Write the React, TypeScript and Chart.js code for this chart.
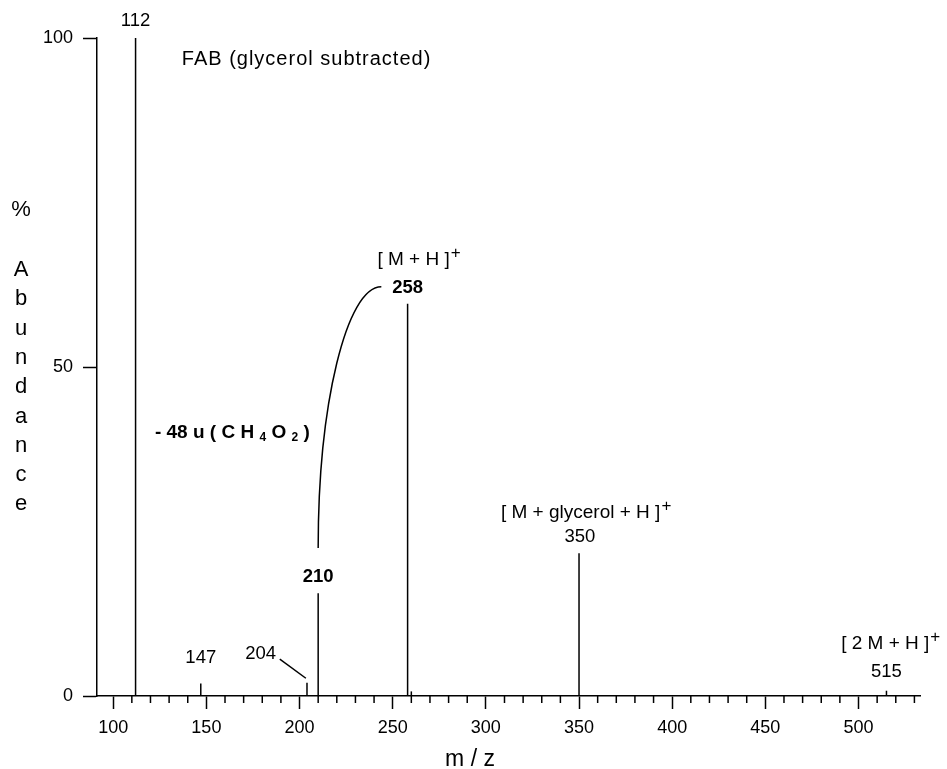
import React, { useEffect, useRef } from 'react';
import { Chart, registerables } from 'chart.js';

Chart.register(...registerables);

// ---- data ----
const peakMz = [112, 147, 204, 210, 258, 260, 350, 515];
const peakAbundance = [100, 1.9, 2.0, 15.6, 59.6, 0.7, 21.7, 0.8];
const xMajorTicks = [100, 150, 200, 250, 300, 350, 400, 450, 500];
const yTicks = [0, 50, 100];
const X_MIN = 91.3;
const X_MAX = 533;
const MINOR_STEP = 10;

const FONT = '"Liberation Sans", Arial, Helvetica, sans-serif';

// annotation labels anchored in data units (m/z, % abundance)
const numberLabels = [
  { text: '112', x: 112, y: 102.6, bold: false },
  { text: '147', x: 147, y: 5.8, bold: false },
  { text: '204', x: 179.1, y: 6.4, bold: false },
  { text: '210', x: 210, y: 18.1, bold: true },
  { text: '258', x: 258, y: 62.0, bold: true },
  { text: '350', x: 350.5, y: 24.2, bold: false },
  { text: '515', x: 515, y: 3.6, bold: false },
];
const ionLabels = [
  { text: '[ M + H ]', x: 241.8, y: 65.5 },
  { text: '[ M + glycerol + H ]', x: 308.1, y: 27.1 },
  { text: '[ 2 M + H ]', x: 490.7, y: 7.1 },
];
const yTitleLetters = ['%', 'A', 'b', 'u', 'n', 'd', 'a', 'n', 'c', 'e'];

function minorTickValues(): number[] {
  const vals: number[] = [];
  for (let v = Math.ceil(X_MIN / MINOR_STEP) * MINOR_STEP; v <= X_MAX; v += MINOR_STEP) vals.push(v);
  return vals;
}

const annotationPlugin = {
  id: 'msAnnotations',
  afterDraw(chart: any) {
    const { ctx, scales } = chart;
    const xs = scales.x;
    const ys = scales.y;
    const px = (v: number) => xs.getPixelForValue(v);
    const py = (v: number) => ys.getPixelForValue(v);
    ctx.save();
    ctx.fillStyle = '#000';
    ctx.strokeStyle = '#000';

    // minor ticks on x axis
    ctx.lineWidth = 1.5;
    const bottom = chart.chartArea.bottom;
    minorTickValues().forEach((v) => {
      if (v % 50 === 0) return;
      const x = px(v);
      ctx.beginPath();
      ctx.moveTo(x, bottom);
      ctx.lineTo(x, bottom + 7);
      ctx.stroke();
    });

    // numeric peak labels
    ctx.textAlign = 'center';
    ctx.textBaseline = 'middle';
    numberLabels.forEach((l) => {
      ctx.font = `${l.bold ? 'bold ' : ''}18.5px ${FONT}`;
      ctx.fillText(l.text, px(l.x), py(l.y));
    });

    // ion labels with superscript +
    ctx.textAlign = 'left';
    ctx.textBaseline = 'alphabetic';
    ionLabels.forEach((l) => {
      ctx.font = `19px ${FONT}`;
      const x0 = px(l.x);
      const y0 = py(l.y);
      ctx.fillText(l.text, x0, y0);
      const w = ctx.measureText(l.text).width;
      ctx.font = `17px ${FONT}`;
      ctx.fillText('+', x0 + w + 1, y0 - 7);
    });

    // FAB title
    ctx.font = `20px ${FONT}`;
    (ctx as any).letterSpacing = '1px';
    ctx.fillText('FAB (glycerol subtracted)', px(136.8), py(95.9));
    (ctx as any).letterSpacing = '0px';

    // - 48 u ( C H4 O2 )
    {
      let x = px(122.4);
      const y = py(39.2);
      const parts: Array<[string, boolean]> = [
        ['- 48 u ( C H ', false],
        ['4', true],
        [' O ', false],
        ['2', true],
        [' )', false],
      ];
      parts.forEach(([t, sub]) => {
        ctx.font = sub ? `bold 12px ${FONT}` : `bold 19px ${FONT}`;
        ctx.fillText(t, x, sub ? y + 3 : y);
        x += ctx.measureText(t).width;
      });
    }

    // curved arrow from 210 to 258
    ctx.lineWidth = 1.5;
    ctx.beginPath();
    ctx.moveTo(px(210), py(22.5));
    ctx.bezierCurveTo(px(210), py(44.4), px(225.3), py(62.2), px(243.9), py(62.2));
    ctx.stroke();

    // leader line for 204
    ctx.lineWidth = 1.5;
    ctx.beginPath();
    ctx.moveTo(px(189.4), py(5.6));
    ctx.lineTo(px(203.4), py(2.7));
    ctx.stroke();

    // x axis title
    ctx.font = `23px ${FONT}`;
    ctx.textAlign = 'center';
    ctx.textBaseline = 'alphabetic';
    ctx.fillText('m / z', px(291.5), 766);

    // y axis title (stacked letters)
    ctx.font = `22px ${FONT}`;
    ctx.textBaseline = 'middle';
    yTitleLetters.forEach((ch, i) => {
      const yy = i === 0 ? 210 : 270 + (i - 1) * 29.3;
      ctx.fillText(ch, 21, yy);
    });

    ctx.restore();
  },
};

export default function App() {
  const canvasRef = useRef<HTMLCanvasElement | null>(null);

  useEffect(() => {
    if (!canvasRef.current) return;
    const chart = new Chart(canvasRef.current, {
      type: 'bar',
      data: {
        datasets: [
          {
            data: peakMz.map((m, i) => ({ x: m, y: peakAbundance[i] })),
            backgroundColor: '#000',
            borderWidth: 0,
            inflateAmount: 0,
            barThickness: 1.5,
          } as any,
        ],
      },
      options: {
        animation: false,
        responsive: true,
        maintainAspectRatio: false,
        events: [],
        layout: { padding: { top: 38, right: 27, bottom: 0, left: 0 } },
        plugins: {
          legend: { display: false },
          tooltip: { enabled: false },
          title: { display: false },
        },
        scales: {
          x: {
            type: 'linear',
            min: X_MIN,
            max: X_MAX,
            offset: false,
            afterBuildTicks: (scale: any) => {
              scale.ticks = minorTickValues().map((v) => ({ value: v }));
            },
            ticks: {
              autoSkip: false,
              maxRotation: 0,
              includeBounds: false,
              padding: 8,
              color: '#000',
              font: { size: 18, family: FONT },
              callback: (v: any) => (xMajorTicks.includes(Number(v)) ? String(v) : ''),
            },
            grid: {
              offset: false,
              drawOnChartArea: false,
              drawTicks: true,
              tickLength: 13,
              tickWidth: 1.5,
              tickColor: (c: any) =>
                c.tick && xMajorTicks.includes(c.tick.value) ? '#000' : 'rgba(0,0,0,0)',
            },
            border: { display: true, color: '#000', width: 1.5 },
            afterFit: (scale: any) => {
              scale.height = 73;
            },
          } as any,
          y: {
            type: 'linear',
            min: 0,
            max: 100,
            afterBuildTicks: (scale: any) => {
              scale.ticks = yTicks.map((v) => ({ value: v }));
            },
            ticks: {
              padding: 10,
              color: '#000',
              font: { size: 18, family: FONT },
            },
            grid: {
              drawOnChartArea: false,
              drawTicks: true,
              tickLength: 14,
              tickWidth: 1.5,
              tickColor: '#000',
            },
            border: { display: true, color: '#000', width: 1.5 },
            afterFit: (scale: any) => {
              scale.width = 97;
            },
          } as any,
        },
      },
      plugins: [annotationPlugin],
    });
    return () => chart.destroy();
  }, []);

  return (
    <div
      style={{
        position: 'fixed',
        left: 0,
        top: 0,
        width: 947,
        height: 769,
        background: '#fff',
      }}
    >
      <canvas ref={canvasRef} />
    </div>
  );
}
